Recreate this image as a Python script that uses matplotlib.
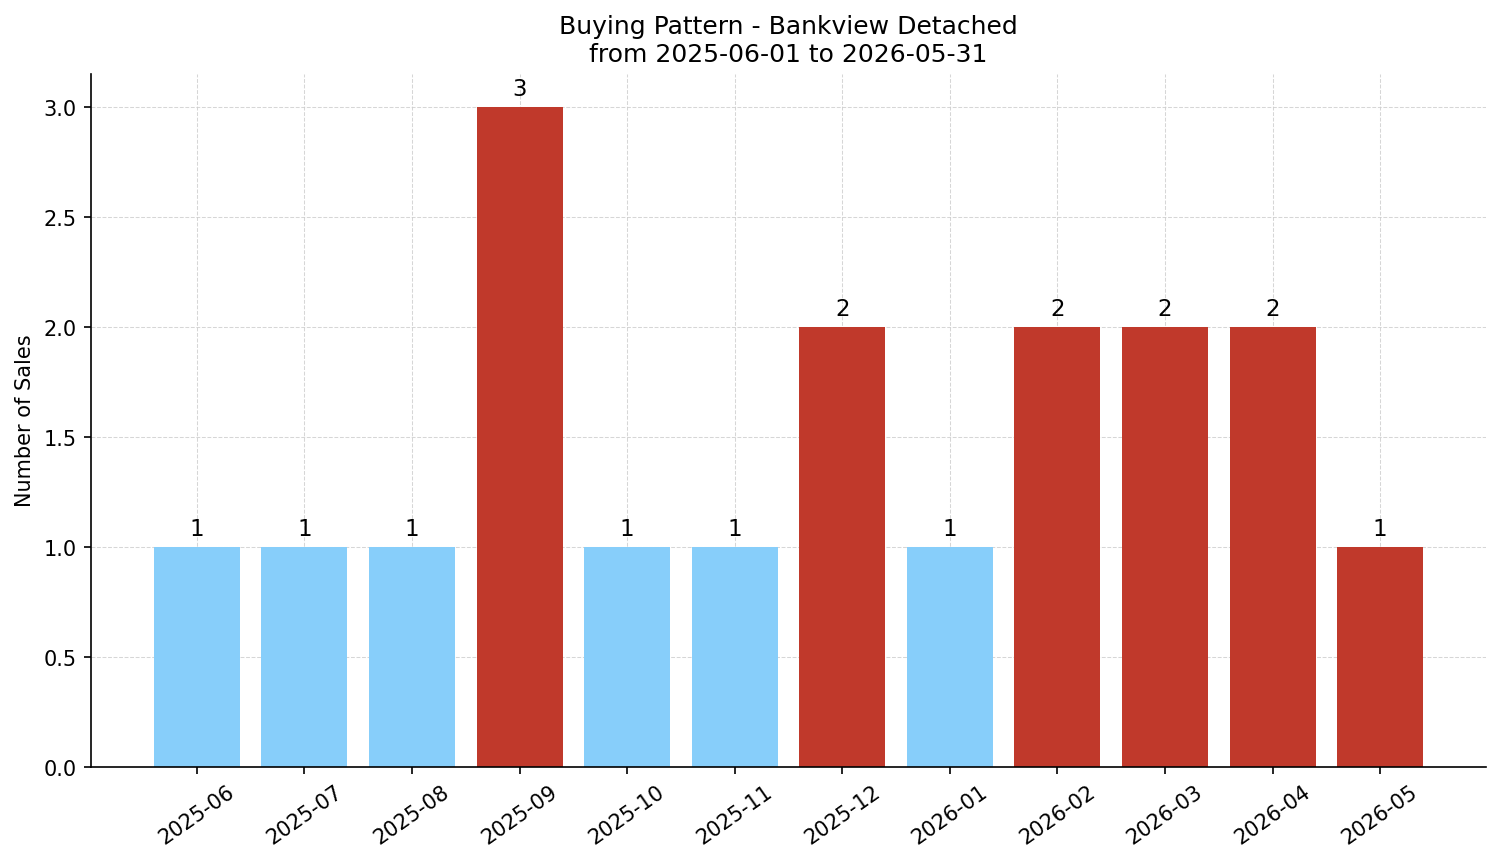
import numpy as np
import matplotlib
matplotlib.use('Agg')
import matplotlib.pyplot as plt

months = ['2025-06', '2025-07', '2025-08', '2025-09', '2025-10', '2025-11',
          '2025-12', '2026-01', '2026-02', '2026-03', '2026-04', '2026-05']
sales = [1, 1, 1, 3, 1, 1, 2, 1, 2, 2, 2, 1]
highlight = [False, False, False, True, False, False, True, False, True, True, True, True]

blue = '#87CEFA'
red = '#C0392B'
colors = [red if h else blue for h in highlight]

fig, ax = plt.subplots(figsize=(10.007, 5.753), dpi=150)
x = np.arange(len(months))
bars = ax.bar(x, sales, width=0.8, color=colors, zorder=2)

for b, v in zip(bars, sales):
    ax.text(b.get_x() + b.get_width() / 2, v + 0.03, str(v),
            ha='center', va='bottom', fontsize=11)

ax.set_xticks(x)
ax.set_xticklabels(months, rotation=35, fontsize=10)
ax.tick_params(axis='y', labelsize=10)
ax.set_xlim(-0.985, 11.985)
ax.set_ylim(0, 3.15)
ax.set_ylabel('Number of Sales', fontsize=10)
ax.set_title('Buying Pattern - Bankview Detached\nfrom 2025-06-01 to 2026-05-31', fontsize=12)
ax.grid(True, linestyle='--', linewidth=0.5, color='#cccccc', alpha=0.8, zorder=0)
ax.spines['top'].set_visible(False)
ax.spines['right'].set_visible(False)

plt.subplots_adjust(left=0.0606, right=0.990, top=0.9135, bottom=0.1105)
plt.savefig('out.png', dpi=150)
